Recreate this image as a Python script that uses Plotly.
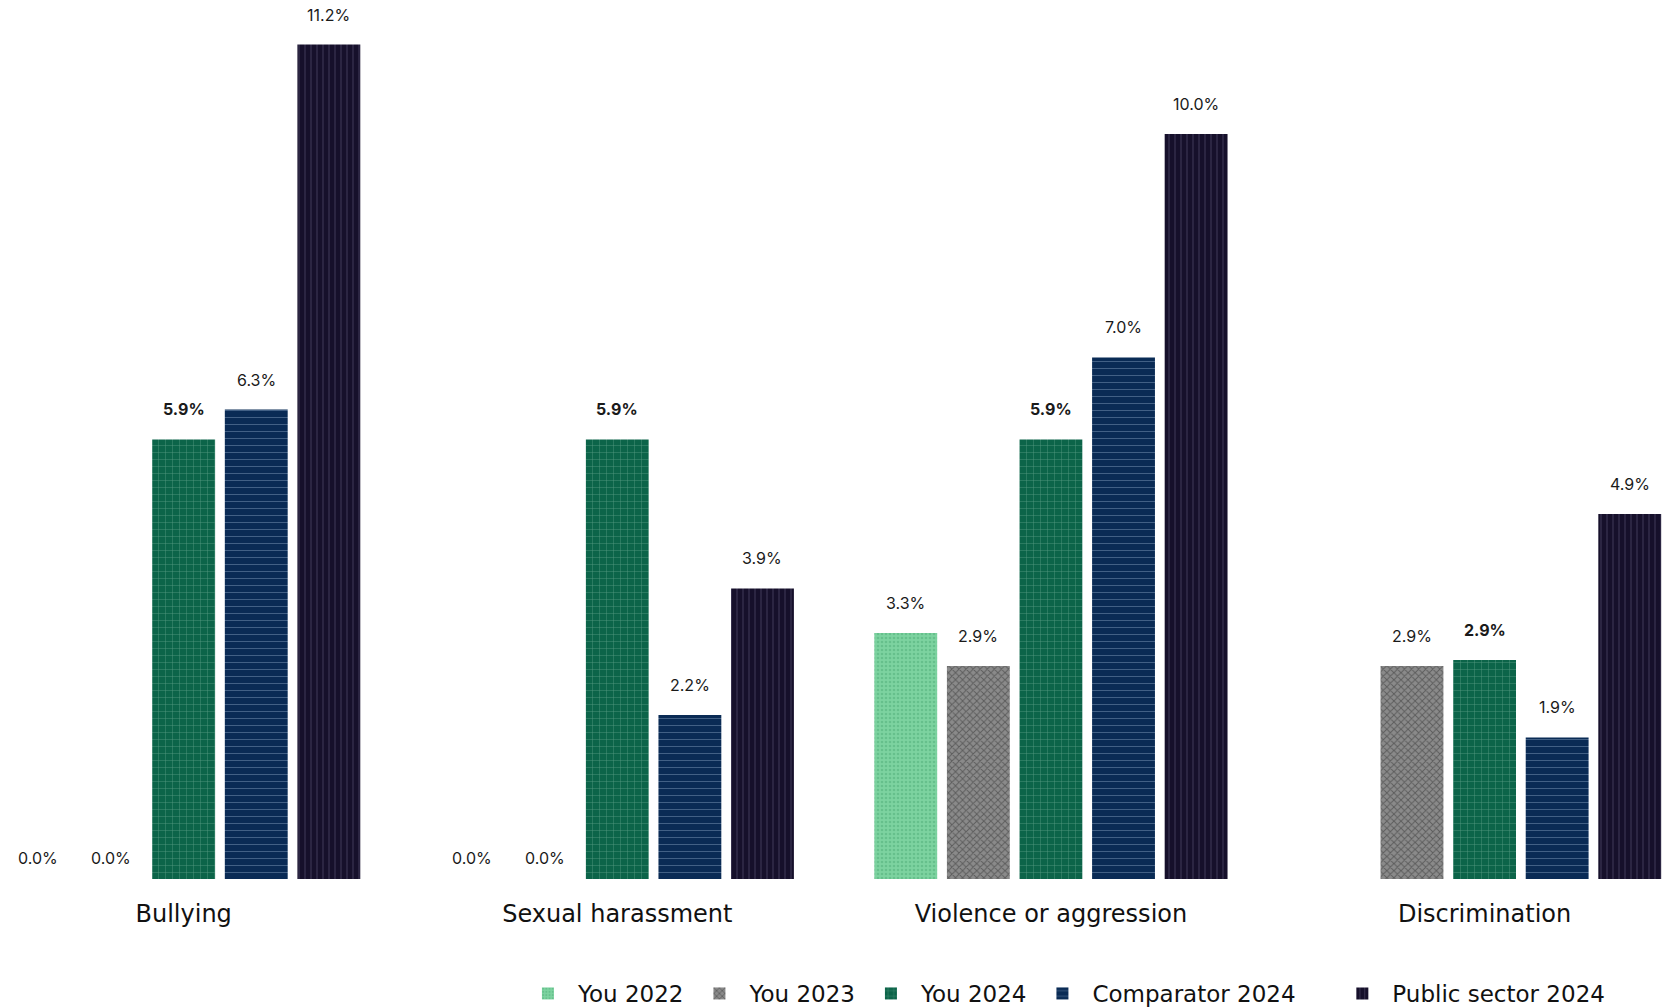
import plotly.graph_objects as go

categories = ["Bullying", "Sexual harassment", "Violence or aggression", "Discrimination"]
series_names = ["You 2022", "You 2023", "You 2024", "Comparator 2024", "Public sector 2024"]
you_2022 = [0.0, 0.0, 3.3, 0.0]
you_2023 = [0.0, 0.0, 2.86, 2.86]
you_2024 = [5.9, 5.9, 5.9, 2.94]
comparator_2024 = [6.3, 2.2, 7.0, 1.9]
public_sector_2024 = [11.2, 3.9, 10.0, 4.9]
all_values = [you_2022, you_2023, you_2024, comparator_2024, public_sector_2024]
# You 2022 has no bar/label in Discrimination
show_label = [[True, True, True, False], [True, True, True, True], [True] * 4, [True] * 4, [True] * 4]

styles = [
    dict(bg="#7dd3a0", fg="#4fae77", shape=".", size=4, solidity=0.35),
    dict(bg="#8a8a8a", fg="#2e2e2e", shape="x", size=5, solidity=0.35),
    dict(bg="#0c6449", fg="#9fd0bb", shape="+", size=7, solidity=0.12),
    dict(bg="#0a2b55", fg="#8fa8c8", shape="-", size=7, solidity=0.12),
    dict(bg="#16102b", fg="#8c86a8", shape="|", size=6, solidity=0.12),
]
legend_ids = ["legend", "legend", "legend", "legend", "legend2"]
bold = [False, False, True, False, False]

bargap = 0.163
bargroupgap = 0.134
n = len(series_names)

fig = go.Figure()
for i, (name, vals, st) in enumerate(zip(series_names, all_values, styles)):
    fig.add_trace(go.Bar(
        name=name, x=categories, y=vals, legend=legend_ids[i],
        marker=dict(color=st["bg"], line=dict(width=0),
                    pattern=dict(shape=st["shape"], fgcolor=st["fg"], bgcolor=st["bg"],
                                 size=st["size"], solidity=st["solidity"], fillmode="overlay")),
        hoverinfo="skip",
    ))

slot = (1 - bargap) / n
for i, vals in enumerate(all_values):
    for k, v in enumerate(vals):
        if not show_label[i][k]:
            continue
        txt = f"{v:.1f}%"
        if bold[i]:
            txt = f"<b>{txt}</b>"
        fig.add_annotation(
            x=k + (i - (n - 1) / 2) * slot, y=v, xref="x", yref="y",
            text=txt, showarrow=False, yanchor="middle", borderpad=0,
            yshift=30 if v > 0 else 21,
            font=dict(family="Inter, Lato, sans-serif", size=16, color="#1a1a1a"),
        )

legend_style = dict(orientation="h", xanchor="left", y=-0.1317, yanchor="middle",
                    font=dict(family="DejaVu Sans, sans-serif", size=23, color="#111111"),
                    itemwidth=50, tracegroupgap=0, bgcolor="rgba(0,0,0,0)")

fig.update_layout(
    width=1673, height=1007,
    margin=dict(l=0, r=0, t=0, b=126),
    plot_bgcolor="white", paper_bgcolor="white",
    barmode="group", bargap=bargap, bargroupgap=bargroupgap,
    font=dict(family="Inter, Lato, sans-serif", color="#111111"),
    showlegend=True,
    legend=dict(x=0.3048, **legend_style),
    legend2=dict(x=0.7916, **legend_style),
)
fig.update_xaxes(range=[-0.4051, 3.453], showgrid=False, showline=False, zeroline=False,
                 ticks="", tickfont=dict(family="DejaVu Sans, sans-serif", size=24, color="#111111"),
                 ticklabelstandoff=18, fixedrange=True)
fig.update_yaxes(range=[0, 11.69], showgrid=False, showline=False, zeroline=False,
                 showticklabels=False, ticks="", fixedrange=True)

fig.write_html("out.html")
